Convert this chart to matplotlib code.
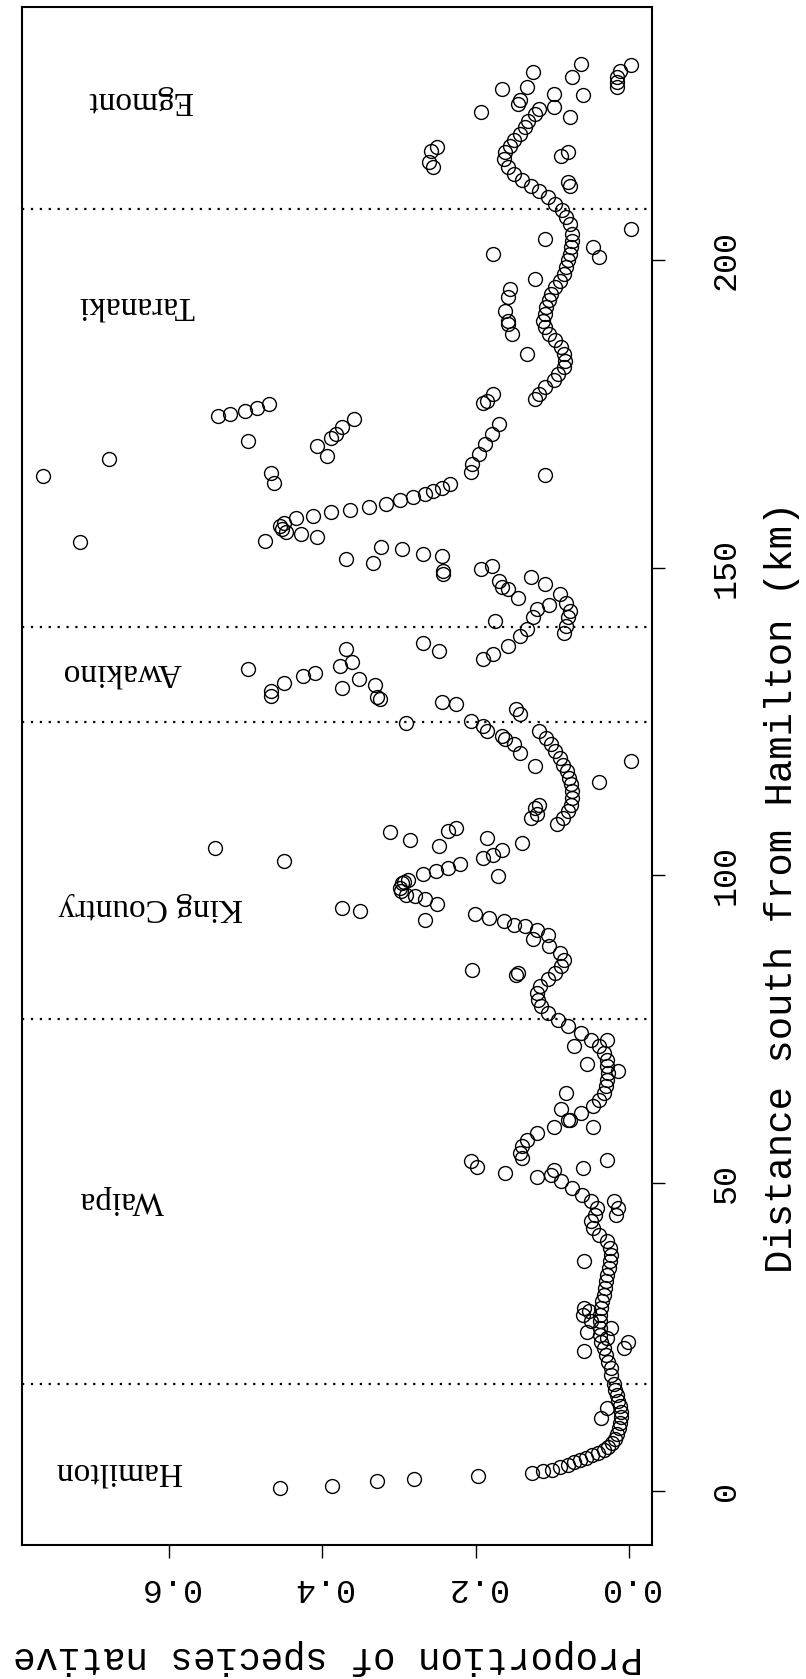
import matplotlib.pyplot as plt

# distance south from Hamilton (km) and proportion of species native, by district
hamilton_km = [0.5, 0.8, 1.6, 1.9, 2.5, 2.9, 3.2, 3.5, 3.9, 4.3, 4.7, 5.0, 5.4, 5.8, 6.2,
               6.7, 7.2, 7.8, 8.5, 9.3, 10.2, 11.1, 12.0, 12.9, 13.8, 14.7, 15.6, 16.5,
               17.4, 13.5, 11.8]
hamilton_prop = [0.455, 0.387, 0.328, 0.280, 0.197, 0.127, 0.112, 0.100, 0.090, 0.080,
                 0.072, 0.064, 0.056, 0.048, 0.040, 0.033, 0.027, 0.022, 0.018, 0.015,
                 0.013, 0.012, 0.011, 0.011, 0.012, 0.014, 0.016, 0.018, 0.020, 0.029,
                 0.036]

waipa_km = [51.4, 50.3, 49.2, 48.1, 47.1, 46.0, 44.9, 43.8, 42.7, 41.6, 40.6, 39.5, 38.4,
            37.3, 36.2, 35.1, 34.1, 33.0, 31.9, 30.8, 29.7, 28.6, 27.6, 26.5, 25.4, 24.3,
            23.2, 22.1, 21.0, 20.0, 18.9,
            47.1, 44.9, 46.0, 37.3, 29.7, 28.6, 27.6, 26.5, 24.8, 22.7, 24.3, 23.2, 25.9,
            29.2, 53.8, 52.5, 52.2, 51.1, 51.7, 53.6, 52.7,
            89.6, 88.5, 87.4, 86.3, 85.3, 84.2, 83.1, 82.0, 80.9, 79.8, 78.8, 77.7, 76.6,
            75.5, 74.4, 73.3, 72.3, 71.2, 70.1, 69.0, 67.9, 66.8, 65.8, 64.7, 63.6, 62.5,
            61.4, 60.3, 59.2, 58.2, 57.1, 56.0, 54.9, 54.1,
            84.7, 83.9, 84.2, 72.3, 73.3, 69.3, 68.2, 64.7, 62.0, 59.2, 60.3]
waipa_prop = [0.101, 0.088, 0.074, 0.061, 0.050, 0.042, 0.044, 0.050, 0.047, 0.039, 0.028,
              0.025, 0.024, 0.025, 0.026, 0.028, 0.030, 0.031, 0.033, 0.035, 0.037, 0.038,
              0.038, 0.038, 0.038, 0.036, 0.033, 0.030, 0.027, 0.024, 0.023,
              0.020, 0.017, 0.014, 0.058, 0.058, 0.060, 0.050, 0.023, 0.028, 0.058, 0.001,
              0.006, 0.055, 0.052, 0.028, 0.060, 0.098, 0.120, 0.161, 0.206, 0.198,
              0.125, 0.104, 0.090, 0.085, 0.088, 0.096, 0.106, 0.116, 0.120, 0.119, 0.115,
              0.105, 0.093, 0.079, 0.063, 0.050, 0.039, 0.032, 0.029, 0.028, 0.027, 0.028,
              0.030, 0.033, 0.039, 0.047, 0.063, 0.079, 0.098, 0.120, 0.133, 0.140, 0.142,
              0.139,
              0.204, 0.147, 0.144, 0.071, 0.028, 0.055, 0.014, 0.082, 0.088, 0.047, 0.077]

king_km = [123.5, 122.4, 121.3, 120.2, 119.1, 118.0, 117.0, 115.9, 114.8, 113.7, 112.6,
           111.5, 110.5, 109.4, 108.3,
           127.0, 126.2, 124.8, 125.1, 124.3, 123.5, 122.7, 122.1, 121.3, 119.9, 117.8,
           118.6, 115.1, 111.0, 111.5, 109.4, 109.9, 105.3, 99.9, 106.1, 104.2, 103.4,
           102.9, 107.0, 105.8, 107.2, 107.7, 104.8,
           101.8, 101.2, 100.7, 100.2, 99.3, 98.8, 98.0, 96.9, 96.6, 96.1, 95.3, 99.0, 97.5,
           92.8, 94.7, 94.2, 104.5, 102.3,
           93.7, 93.1, 92.6, 92.0, 91.8, 91.2, 90.4]
king_prop = [0.117, 0.108, 0.101, 0.096, 0.090, 0.086, 0.081, 0.078, 0.076, 0.074, 0.074,
             0.076, 0.079, 0.086, 0.094,
             0.147, 0.142, 0.290, 0.206, 0.190, 0.185, 0.166, 0.161, 0.150, 0.142, 0.123,
             -0.002, 0.039, 0.123, 0.117, 0.128, 0.120, 0.139, 0.171, 0.185, 0.166, 0.177,
             0.190, 0.312, 0.285, 0.236, 0.225, 0.247,
             0.220, 0.236, 0.252, 0.269, 0.288, 0.296, 0.298, 0.290, 0.279, 0.266, 0.250,
             0.293, 0.297,
             0.266, 0.374, 0.350, 0.539, 0.450,
             0.201, 0.182, 0.163, 0.150, 0.136, 0.120, 0.106]

awakino_km = [148.4, 147.3, 145.7, 144.3, 143.0, 141.9, 140.5, 139.4,
              144.0, 143.2, 141.9, 140.0, 138.9, 137.3, 135.9, 135.1,
              141.3, 137.8, 136.5, 133.5, 136.7, 134.0, 134.6, 131.9, 130.5, 131.0, 128.9,
              128.6, 132.9, 132.4, 131.3, 130.0, 129.1, 128.1, 127.8]
awakino_prop = [0.128, 0.109, 0.090, 0.082, 0.077, 0.079, 0.082, 0.085,
                0.104, 0.120, 0.125, 0.133, 0.142, 0.158, 0.177, 0.190,
                0.174, 0.269, 0.247, 0.496, 0.369, 0.377, 0.361, 0.352, 0.374, 0.331, 0.328,
                0.325, 0.409, 0.425, 0.450, 0.466, 0.466, 0.244, 0.225]

taranaki_km = [204.2, 203.1, 202.0, 200.9, 199.9, 198.8, 197.7, 196.6, 195.5, 194.4, 193.4,
               192.3, 191.2, 190.1, 189.0, 187.9, 186.9, 185.8, 184.7, 183.6, 182.5, 181.4,
               180.4, 179.3, 178.2, 177.4,
               203.4, 202.0, 200.4, 200.9, 196.9, 195.3, 193.9, 191.7, 190.1, 189.6, 187.9,
               184.7, 178.2, 177.1, 176.8, 173.3, 171.7, 170.1, 168.4, 166.8, 176.6, 176.0,
               175.5, 174.9, 174.7, 170.6, 174.1, 172.8, 171.7, 171.1, 169.8, 168.2, 167.6,
               205.0,
               164.9, 165.3, 163.8, 165.5, 163.6, 163.0, 162.5, 161.9, 161.4, 160.9, 160.3,
               159.9, 159.4, 159.0, 158.4, 158.0, 157.3, 156.8, 154.3, 156.2, 155.7, 155.4,
               154.9, 154.1, 151.4, 150.8, 153.3, 153.0, 152.2, 151.9, 149.5, 148.9, 149.7,
               150.3, 147.8, 146.8, 146.5, 145.1, 165.1]
taranaki_prop = [0.074, 0.074, 0.076, 0.077, 0.079, 0.082, 0.085, 0.090, 0.096, 0.101, 0.104,
                 0.108, 0.110, 0.112, 0.109, 0.104, 0.096, 0.089, 0.085, 0.084, 0.085, 0.092,
                 0.098, 0.109, 0.117, 0.123,
                 0.109, 0.047, 0.039, 0.177, 0.123, 0.155, 0.158, 0.161, 0.158, 0.158, 0.152,
                 0.133, 0.177, 0.185, 0.190, 0.169, 0.179, 0.187, 0.196, 0.204, 0.469, 0.485,
                 0.501, 0.520, 0.536, 0.496, 0.358, 0.374, 0.382, 0.388, 0.407, 0.393, 0.677,
                 -0.002,
                 0.763, 0.467, 0.463, 0.206, 0.233, 0.244, 0.255, 0.266, 0.282, 0.298, 0.317,
                 0.339, 0.363, 0.388, 0.412, 0.434, 0.450, 0.455, 0.474, 0.452, 0.447, 0.428,
                 0.406, 0.715, 0.369, 0.334, 0.323, 0.296, 0.269, 0.244, 0.242, 0.242, 0.193,
                 0.179, 0.169, 0.166, 0.158, 0.144, 0.109]

egmont_km = [224.5, 223.7, 222.6, 221.5, 220.4, 219.4, 218.5, 217.5, 216.4, 215.0, 213.9,
             212.9, 212.0, 211.2, 210.2, 209.1, 208.0, 206.9, 205.8,
             231.6, 230.7, 229.7, 228.9, 228.0, 231.8, 229.7, 226.7, 223.2, 230.5, 228.0,
             227.8, 225.9, 225.3, 227.0, 224.8, 224.0, 217.7, 218.3, 215.8, 215.0, 216.9,
             217.5, 212.6, 212.0]
egmont_prop = [0.117, 0.123, 0.131, 0.136, 0.142, 0.150, 0.155, 0.161, 0.163, 0.158, 0.150,
               0.139, 0.128, 0.117, 0.106, 0.096, 0.087, 0.082, 0.077,
               -0.002, 0.012, 0.015, 0.015, 0.015, 0.063, 0.074, 0.060, 0.077, 0.125, 0.133,
               0.166, 0.142, 0.144, 0.098, 0.098, 0.193, 0.258, 0.250, 0.261, 0.255, 0.088,
               0.079, 0.079, 0.077]

district_names = ["Hamilton", "Waipa", "King Country", "Awakino", "Taranaki", "Egmont"]
district_label_km = [3.3, 47.3, 94.8, 133.0, 192.6, 225.9]
district_label_prop = [0.666, 0.661, 0.623, 0.661, 0.642, 0.637]
boundaries_km = [17.4, 76.7, 125.0, 140.3, 208.3]

dist_ticks = [0, 50, 100, 150, 200]
prop_ticks = [0.0, 0.2, 0.4, 0.6]

mono = "Liberation Mono"
serif = "Liberation Serif"

fig = plt.figure(figsize=(8.06, 16.79), dpi=100)
ax = fig.add_axes([22 / 806, 1 - 1545 / 1679, 630 / 806, 1538 / 1679])

for km, prop in [(hamilton_km, hamilton_prop), (waipa_km, waipa_prop),
                 (king_km, king_prop), (awakino_km, awakino_prop),
                 (taranaki_km, taranaki_prop), (egmont_km, egmont_prop)]:
    ax.plot(prop, km, 'o', mfc='none', mec='black', ms=10, mew=1.0, ls='none')

for b in boundaries_km:
    ax.axhline(b, color='black', ls=(0, (1, 3)), lw=1.6)

for name, d, p in zip(district_names, district_label_km, district_label_prop):
    ax.text(p, d, name, rotation=180, ha='center', va='center',
            family=serif, fontsize=24)

ax.set_xlim(0.791, -0.030)
ax.set_ylim(-8.75, 241.05)

ax.yaxis.tick_right()
ax.set_yticks(dist_ticks)
ax.set_yticklabels([str(t) for t in dist_ticks], rotation=90, va='center',
                   family=mono, fontsize=24)
ax.tick_params(axis='y', length=9.5, width=1.0, pad=33)

ax.set_xticks(prop_ticks)
ax.set_xticklabels(["%.1f" % t for t in prop_ticks], rotation=180, ha='center',
                   family=mono, fontsize=24)
ax.tick_params(axis='x', length=9.5, width=1.0, pad=10)

for s in ax.spines.values():
    s.set_linewidth(1.5)

fig.text(782 / 806, 1 - 887 / 1679, "Distance south from Hamilton (km)", rotation=90,
         ha='center', va='center', family=mono, fontsize=28)
fig.text(328 / 806, 1 - 1657 / 1679, "Proportion of species native", rotation=180,
         ha='center', va='center', family=mono, fontsize=27)

fig.savefig("out.png", dpi=100)
